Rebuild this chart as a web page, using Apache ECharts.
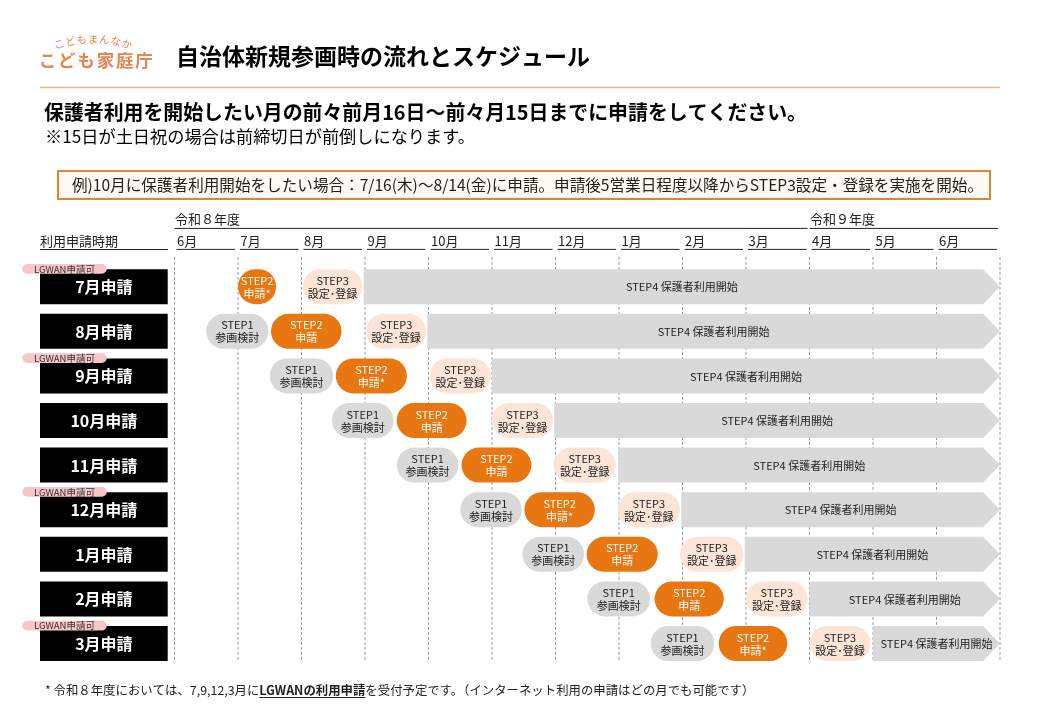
<!DOCTYPE html>
<html><head><meta charset="utf-8">
<script src="https://cdn.jsdelivr.net/npm/echarts@6/dist/echarts.min.js"></script>
<style>html,body{margin:0;padding:0;background:#fff}#c{width:1040px;height:720px}</style>
</head><body><div id="c"></div><script>
const FONT = "'Noto Sans CJK JP','Noto Sans',sans-serif";

// ---- data ----
const rows = ['7月申請','8月申請','9月申請','10月申請','11月申請','12月申請','1月申請','2月申請','3月申請'];
const lgwan = [1,0,1,0,0,1,0,0,1];
const months = ['6月','7月','8月','9月','10月','11月','12月','1月','2月','3月','4月','5月','6月'];
const fiscalYears = ['令和８年度','令和９年度'];
const fiscalStart = [0,10];
const fiscalEnd = [10,13];
const step1Start = [null,0.5,1.5,2.48,3.5,4.5,5.48,6.5,7.5];
const step1End   = [null,1.48,2.5,3.45,4.47,5.47,6.45,7.49,8.5];
const step2Start = [1.0,1.52,2.54,3.5,4.52,5.51,6.49,7.56,8.57];
const step2End   = [1.6,2.63,3.66,4.6,5.62,6.62,7.61,8.65,9.65];
const step2Text  = ['申請*','申請','申請*','申請','申請','申請*','申請','申請','申請*'];
const step3Start = [2.02,3.02,4.02,5.0,5.97,6.98,7.96,9.0,10.0];
const step3End   = [2.96,3.96,4.98,5.96,6.95,7.96,8.96,9.97,10.96];
const step4Start = [2.98,3.98,5.0,5.98,6.99,7.98,8.98,10.0,11.0];
const step4End   = 13;
const boundaries = [0,1,2,3,4,5,6,7,8,9,10,11,12,13];

const step1Label = 'STEP1\n参画検討';
const step2Head = 'STEP2';
const step3Label = 'STEP3\n設定･登録';
const step4Label = 'STEP4 保護者利用開始';
const lgwanLabel = 'LGWAN申請可';

const titleText = '自治体新規参画時の流れとスケジュール';
const subText = '保護者利用を開始したい月の前々前月16日～前々月15日までに申請をしてください。';
const noteText = '※15日が土日祝の場合は前締切日が前倒しになります。';
const exampleText = '例)10月に保護者利用開始をしたい場合：7/16(木)～8/14(金)に申請。申請後5営業日程度以降からSTEP3設定・登録を実施を開始。';
const fn1 = '* 令和８年度においては、7,9,12,3月に';
const fn2 = 'LGWANの利用申請';
const fn3 = 'を受付予定です。（インターネット利用の申請はどの月でも可能です）';
const logoSmall = 'こどもまんなか';
const logoBig = 'こども家庭庁';

// ---- helpers ----
const ctx = document.createElement('canvas').getContext('2d');
function tw(t, size, weight) { ctx.font = (weight || 'normal') + ' ' + size + 'px ' + FONT; return ctx.measureText(t).width; }

const chart = echarts.init(document.getElementById('c'), null, {renderer: 'canvas'});

function renderLines(params, api) {
  const cs = params.coordSys;
  const x = api.coord([boundaries[params.dataIndex], 0])[0];
  return {type: 'line', shape: {x1: x, y1: cs.y - 7.5, x2: x, y2: cs.y + cs.height - 5},
    style: {stroke: '#9a9a9a', lineWidth: 1, lineDash: [3, 2]}};
}

function renderHeader(params, api) {
  const cs = params.coordSys;
  const k = params.dataIndex;
  const x0 = api.coord([k, 0])[0], x1 = api.coord([k + 1, 0])[0];
  return {type: 'group', children: [
    {type: 'text', style: {text: months[k], x: x0 + 2.5, y: cs.y - 23, verticalAlign: 'middle', fontSize: 13, fontFamily: FONT, fill: '#222'}},
    {type: 'line', shape: {x1: x0 + 2, y1: cs.y - 15, x2: x1 - 3, y2: cs.y - 15}, style: {stroke: '#222', lineWidth: 1}}
  ]};
}

function renderFiscal(params, api) {
  const cs = params.coordSys;
  const k = params.dataIndex;
  const x0 = api.coord([fiscalStart[k], 0])[0], x1 = api.coord([fiscalEnd[k], 0])[0];
  return {type: 'group', children: [
    {type: 'text', style: {text: fiscalYears[k], x: x0 + 0.5, y: cs.y - 45.5, verticalAlign: 'middle', fontSize: 13, fontFamily: FONT, fill: '#222'}},
    {type: 'line', shape: {x1: x0, y1: cs.y - 36, x2: x1 - 2, y2: cs.y - 36}, style: {stroke: '#222', lineWidth: 1}}
  ]};
}

function renderGantt(params, api) {
  const cs = params.coordSys;
  const i = params.dataIndex;
  const yc = api.coord([0, i])[1];
  const band = api.size([0, 1])[1];
  const h = band * 0.785;
  const X = v => api.coord([v, i])[0];
  const children = [];
  function pill(s, e, fill, color, text) {
    const x0 = X(s), x1 = X(e);
    children.push({type: 'rect', shape: {x: x0, y: yc - h / 2, width: x1 - x0, height: h, r: h / 2}, style: {fill: fill}});
    children.push({type: 'text', style: {text: text, x: (x0 + x1) / 2, y: yc + 0.5, align: 'center', verticalAlign: 'middle',
      fontSize: 11, lineHeight: 13, fontFamily: FONT, fill: color}});
  }
  // row label box
  const bx = cs.x - 134.5;
  children.push({type: 'rect', shape: {x: bx, y: yc - h / 2, width: 127.7, height: h}, style: {fill: '#000'}});
  children.push({type: 'text', style: {text: rows[i], x: bx + 63.85, y: yc + 0.5, align: 'center', verticalAlign: 'middle',
    fontSize: 16, fontWeight: 'bold', fontFamily: FONT, fill: '#fff'}});
  // STEP4 arrow
  const a0 = X(step4Start[i]), a1 = X(step4End);
  const head = 17;
  children.push({type: 'polygon', shape: {points: [[a0, yc - h / 2], [a1 - head, yc - h / 2], [a1, yc], [a1 - head, yc + h / 2], [a0, yc + h / 2]]},
    style: {fill: '#d9d9d9'}});
  children.push({type: 'text', style: {text: step4Label, x: (a0 + a1) / 2, y: yc + 0.5, align: 'center', verticalAlign: 'middle',
    fontSize: 11, fontFamily: FONT, fill: '#222'}});
  if (step1Start[i] != null) pill(step1Start[i], step1End[i], '#d9d9d9', '#222', step1Label);
  pill(step2Start[i], step2End[i], '#e87611', '#fff', step2Head + '\n' + step2Text[i]);
  pill(step3Start[i], step3End[i], '#fce4d6', '#222', step3Label);
  if (lgwan[i]) {
    const px = cs.x - 152.2;
    children.push({type: 'rect', shape: {x: px, y: yc - 22.7, width: 84.4, height: 9.8, r: 4.9}, style: {fill: '#f8c5c9'}});
    children.push({type: 'text', style: {text: lgwanLabel, x: px + 42.2, y: yc - 17.7, align: 'center', verticalAlign: 'middle',
      fontSize: 9.5, fontFamily: FONT, fill: '#333'}});
  }
  return {type: 'group', children: children};
}

// logo characters on an arc
const logoEls = [];
for (let j = 0; j < logoSmall.length; j++) {
  const t = (j - 3) / 3;
  logoEls.push({type: 'text', x: 93 + t * 34, y: 39 + 5 * t * t, rotation: -t * 0.3,
    style: {text: logoSmall[j], align: 'center', verticalAlign: 'middle', fontSize: 10.5, fontFamily: FONT, fill: '#e8844f'}});
}
for (let j = 0; j < logoBig.length; j++) {
  logoEls.push({type: 'text', x: 47.5 + j * 19.3, y: 60,
    style: {text: logoBig[j], align: 'center', verticalAlign: 'middle', fontSize: 17.5, fontWeight: 'bold', fontFamily: FONT, fill: '#e8844f'}});
}

const fnX = 45, fnY = 690, fnSize = 12.4;
const ulX0 = fnX + tw(fn1, fnSize), ulX1 = ulX0 + tw(fn2, fnSize, 'bold');

const option = {
  backgroundColor: '#fff',
  animation: false,
  textStyle: {fontFamily: FONT},
  grid: {left: 174.5, right: 40, top: 264.4, height: 401.4, outerBoundsMode: 'none'},
  xAxis: {type: 'value', min: 0, max: 13, show: false},
  yAxis: {type: 'category', data: rows, inverse: true,
    axisLine: {show: false}, axisTick: {show: false}, splitLine: {show: false}, axisLabel: {show: false}},
  graphic: logoEls.concat([
    {type: 'text', x: 176, y: 56, style: {text: titleText, verticalAlign: 'middle', fontSize: 23, fontWeight: 'bold', fontFamily: FONT, fill: '#000'}},
    {type: 'line', shape: {x1: 40, y1: 87.5, x2: 1000, y2: 87.5}, style: {stroke: '#f4b183', lineWidth: 1.5}},
    {type: 'text', x: 44, y: 112, style: {text: subText, verticalAlign: 'middle', fontSize: 19.9, fontWeight: 'bold', fontFamily: FONT, fill: '#000'}},
    {type: 'text', x: 45, y: 136, style: {text: noteText, verticalAlign: 'middle', fontSize: 17.2, fontFamily: FONT, fill: '#000'}},
    {type: 'rect', shape: {x: 58, y: 171, width: 932, height: 28}, style: {fill: '#fffaf4', stroke: '#dd8533', lineWidth: 2}},
    {type: 'text', x: 72, y: 185.5, style: {text: exampleText, verticalAlign: 'middle', fontSize: 15.6, fontFamily: FONT, fill: '#222'}},
    {type: 'text', x: 40, y: 241.5, style: {text: '利用申請時期', verticalAlign: 'middle', fontSize: 13, fontFamily: FONT, fill: '#222'}},
    {type: 'line', shape: {x1: 40, y1: 249.5, x2: 168, y2: 249.5}, style: {stroke: '#222', lineWidth: 1}},
    {type: 'text', x: fnX, y: fnY, style: {text: '{n|' + fn1 + '}{b|' + fn2 + '}{n|' + fn3 + '}', verticalAlign: 'middle',
      rich: {n: {fontSize: fnSize, fontFamily: FONT, fill: '#222'}, b: {fontSize: fnSize, fontWeight: 'bold', fontFamily: FONT, fill: '#222'}}}},
    {type: 'line', shape: {x1: ulX0, y1: fnY + 7.5, x2: ulX1, y2: fnY + 7.5}, style: {stroke: '#222', lineWidth: 1}}
  ]),
  series: [
    {type: 'custom', name: 'lines', clip: false, z: 1, renderItem: renderLines, data: boundaries.map(b => [b, 0])},
    {type: 'custom', name: 'header', clip: false, z: 1, renderItem: renderHeader, data: months.map((m, k) => [k, 0])},
    {type: 'custom', name: 'fiscal', clip: false, z: 1, renderItem: renderFiscal, data: fiscalYears.map((f, k) => [fiscalStart[k], 0])},
    {type: 'custom', name: 'gantt', clip: false, z: 3, renderItem: renderGantt, data: rows.map((r, i) => [step4Start[i], i])}
  ]
};
chart.setOption(option);
</script></body></html>
